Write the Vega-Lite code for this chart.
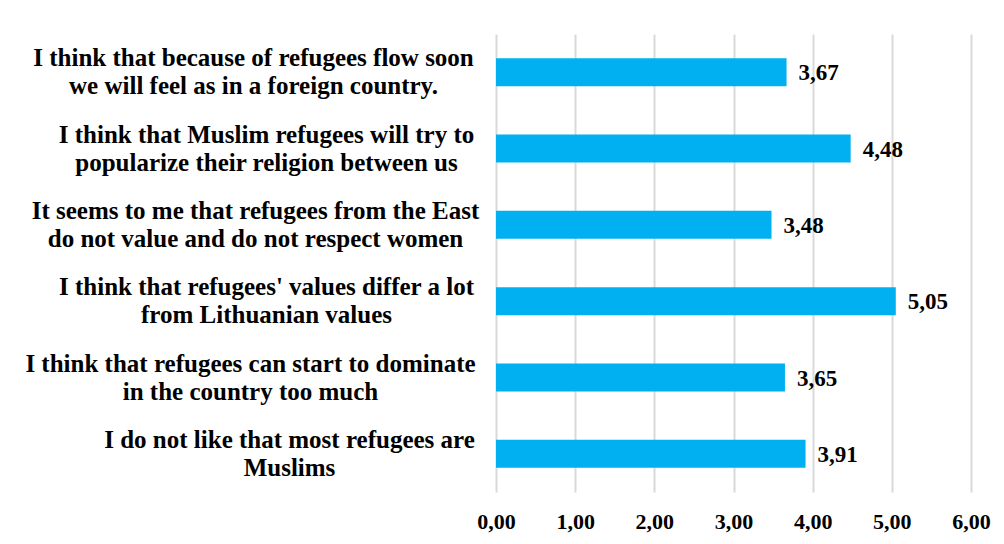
{
  "$schema": "https://vega.github.io/schema/vega-lite/v6.json",
  "autosize": {"type": "none"},
  "width": 475,
  "height": 458,
  "padding": {"left": 496, "top": 34, "right": 33, "bottom": 52},
  "background": "#ffffff",
  "config": {
    "view": {"stroke": null},
    "locale": {"number": {"decimal": ",", "thousands": " ", "grouping": [3], "currency": ["", ""]}},
    "font": "Liberation Serif"
  },
  "data": {
    "values": [
      {"item": "I think that because of refugees flow soon|we will feel as in a foreign country.", "value": 3.67},
      {"item": "I think that Muslim refugees will try to|popularize their religion between us", "value": 4.48},
      {"item": "It seems to me that refugees from the East|do not value and do not respect women", "value": 3.48},
      {"item": "I think that refugees' values differ a lot|from Lithuanian values", "value": 5.05},
      {"item": "I think that refugees can start to dominate|in the country too much", "value": 3.65},
      {"item": "I do not like that most refugees are|Muslims", "value": 3.91}
    ]
  },
  "encoding": {
    "y": {
      "field": "item",
      "type": "nominal",
      "sort": null,
      "scale": {"paddingInner": 0.633, "paddingOuter": 0.3165},
      "axis": {
        "title": null,
        "domain": false,
        "ticks": false,
        "labelExpr": "split(datum.label, '|')",
        "labelAlign": "center",
        "labelBaseline": "middle",
        "labelFont": "Liberation Serif",
        "labelFontWeight": "bold",
        "labelFontSize": 25,
        "labelLineHeight": 28,
        "labelOffset": -14,
        "labelColor": "#000000",
        "labelLimit": 0,
        "labelOverlap": false,
        "labelPadding": {
          "condition": [
            {"test": "indexof(datum.value, 'because of refugees') >= 0", "value": 243},
            {"test": "indexof(datum.value, 'Muslim refugees') >= 0", "value": 230},
            {"test": "indexof(datum.value, 'from the East') >= 0", "value": 241},
            {"test": "indexof(datum.value, 'values differ') >= 0", "value": 230},
            {"test": "indexof(datum.value, 'dominate') >= 0", "value": 246},
            {"test": "indexof(datum.value, 'most refugees') >= 0", "value": 207}
          ],
          "value": 230
        }
      }
    }
  },
  "layer": [
    {
      "mark": {"type": "bar", "color": "#00B0F0"},
      "encoding": {
        "x": {
          "field": "value",
          "type": "quantitative",
          "scale": {"domain": [0, 6], "nice": false},
          "axis": {
            "title": null,
            "domain": false,
            "ticks": false,
            "values": [0, 1, 2, 3, 4, 5, 6],
            "format": ".2f",
            "grid": true,
            "gridColor": "#d9d9d9",
            "gridWidth": 2,
            "labelFont": "Liberation Serif",
            "labelFontWeight": "bold",
            "labelFontSize": 22,
            "labelColor": "#000000",
            "labelPadding": 19,
            "labelFlush": false,
            "labelOverlap": false
          }
        }
      }
    },
    {
      "mark": {"type": "text", "align": "left", "baseline": "middle", "dx": 12, "dy": 1, "font": "Liberation Serif", "fontWeight": "bold", "fontSize": 23, "color": "#000000"},
      "encoding": {
        "x": {"field": "value", "type": "quantitative"},
        "text": {"field": "value", "type": "quantitative", "format": ".2f"}
      }
    }
  ]
}
